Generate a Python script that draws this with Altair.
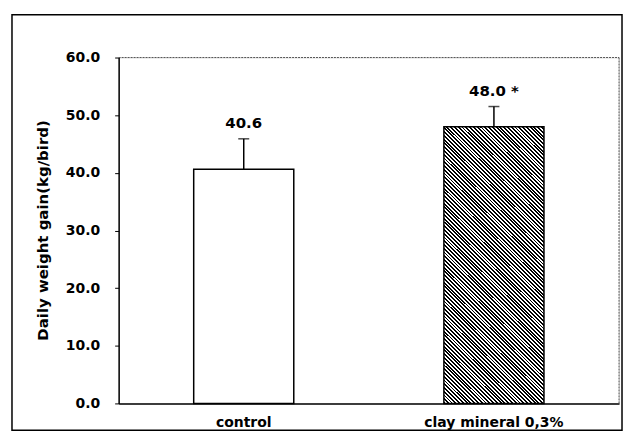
import altair as alt
import pandas as pd

# ---- data ----
groups = ["control", "clay mineral 0,3%"]
means = [40.6, 48.0]
errors = [5.3, 3.5]
marks = ["", " *"]
patterns = ["plain", "hatch"]
y_ticks = [0, 10, 20, 30, 40, 50, 60]

df = pd.DataFrame({"group": groups, "mean": means, "se": errors,
                   "sig": marks, "pattern": patterns})

FONT = "DejaVu Sans"

# diagonal hatch (styling only) built as a striped linear gradient
N = 100
stops = []
for i in range(N):
    a = i / N
    b = (i + 0.5) / N
    c = (i + 1) / N
    stops += [alt.GradientStop(offset=a, color="black"),
              alt.GradientStop(offset=b, color="black"),
              alt.GradientStop(offset=b, color="white"),
              alt.GradientStop(offset=c, color="white")]
hatch = alt.LinearGradient(gradient="linear", x1=0, y1=1, x2=0.4334, y2=-0.204,
                           stops=stops)

base = alt.Chart(df).transform_calculate(
    top="datum.mean + datum.se",
    label="format(datum.mean, '.1f') + datum.sig",
)

x_enc = alt.X("group:N", sort=groups,
              scale=alt.Scale(paddingInner=0.6, paddingOuter=0.3),
              axis=alt.Axis(title=None, labelAngle=0, ticks=False,
                            labelPadding=12, labelFont=FONT, labelFontSize=14,
                            labelFontWeight="bold", labelColor="black",
                            domainColor="black", domainWidth=1.5))
y_scale = alt.Scale(domain=[0, 60], nice=False)

bar_plain = base.transform_filter(alt.datum.pattern == "plain").mark_bar(
    fill="white", stroke="black", strokeWidth=1.5
).encode(
    x=x_enc,
    y=alt.Y("mean:Q", scale=y_scale,
            axis=alt.Axis(values=y_ticks, format=".1f", grid=False,
                          tickSize=4, tickColor="black", labelPadding=15,
                          labelFont=FONT, labelFontSize=14, labelFontWeight="bold",
                          labelColor="black", domainColor="black", domainWidth=1.5,
                          title="Daily weight gain(kg/bird)", titleFont=FONT,
                          titleFontSize=15, titleFontWeight="bold",
                          titleColor="black", titleAngle=270,
                          titleX=-76, titleY=173, titleAlign="center",
                          titleBaseline="middle")),
)

bar_hatch = base.transform_filter(alt.datum.pattern == "hatch").mark_bar(
    fill=hatch, stroke="black", strokeWidth=1.5
).encode(x=x_enc, y=alt.Y("mean:Q", scale=y_scale))

err = base.mark_rule(color="black", strokeWidth=1.5).encode(
    x=x_enc, y=alt.Y("mean:Q", scale=y_scale), y2="top:Q")

cap = base.mark_tick(color="black", thickness=1.5, size=11,
                     orient="horizontal").encode(
    x=x_enc, y=alt.Y("top:Q", scale=y_scale))

labels = base.mark_text(font=FONT, fontSize=15, fontWeight="bold",
                        color="black", baseline="middle", dy=-16).encode(
    x=x_enc, y=alt.Y("top:Q", scale=y_scale), text="label:N")

one = pd.DataFrame({"k": [0]})
top_border = alt.Chart(one).mark_rule(color="#555", strokeDash=[2, 1],
                                      strokeWidth=1).encode(
    x=alt.value(0), x2=alt.value(502), y=alt.value(0))
right_border = alt.Chart(one).mark_rule(color="#555", strokeDash=[2, 1],
                                        strokeWidth=1).encode(
    x=alt.value(502), y=alt.value(0), y2=alt.value(347))

frame = alt.Chart(one).mark_rect(
    filled=False, stroke="black", strokeWidth=1.5
).encode(x=alt.value(-107), x2=alt.value(505),
         y=alt.value(-43), y2=alt.value(374))

chart = alt.layer(top_border, right_border, bar_plain, bar_hatch, err, cap,
                  labels, frame).properties(
    width=502, height=347,
    autosize=alt.AutoSizeParams(type="none"),
    padding={"left": 111, "top": 49, "right": 6, "bottom": 30},
).configure_view(
    stroke=None
).configure(background="white")

chart.save("out.html", embed_options={"renderer": "svg", "actions": False})
